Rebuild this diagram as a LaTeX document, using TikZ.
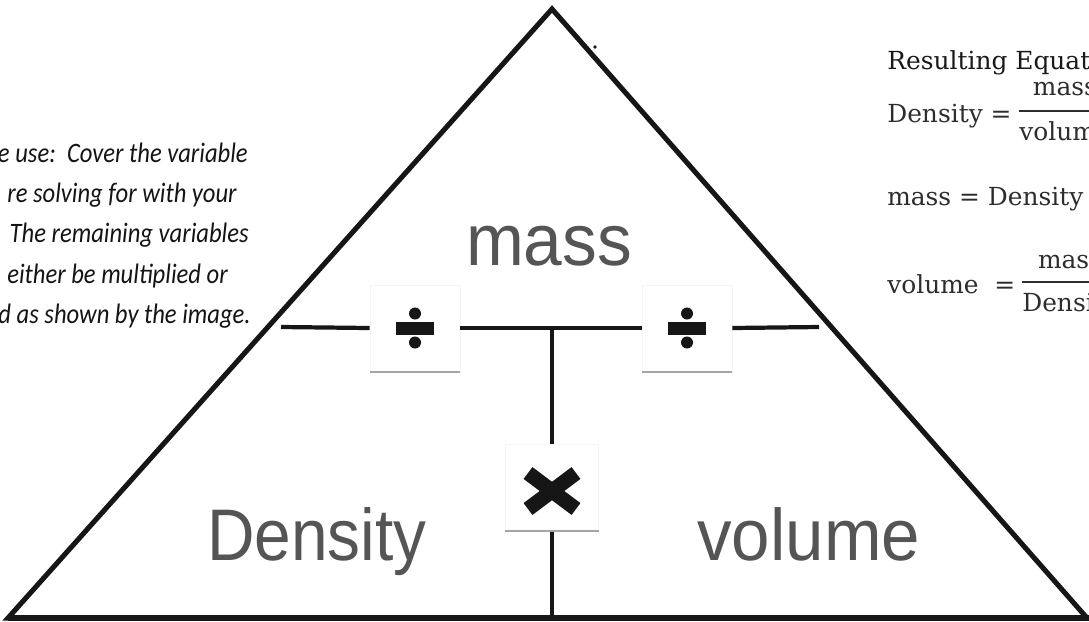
\documentclass[tikz,border=0pt]{standalone}
\usepackage{fontspec}
\usetikzlibrary{calc}
\newfontfamily\notefont{Carlito}
\newfontfamily\eqfont{DejaVu Serif}
\newfontfamily\labelfont{Liberation Sans}
\definecolor{inkline}{RGB}{22,22,22}
\definecolor{labelgray}{RGB}{85,85,85}
\definecolor{eqgray}{RGB}{45,45,45}
\definecolor{notegray}{RGB}{20,20,20}
\definecolor{boxedge}{RGB}{244,244,244}
\definecolor{boxshadow}{RGB}{165,165,165}
\tikzset{edge/.style={line width=3.6pt,inkline,line join=miter},
 divider/.style={line width=3pt,inkline},
 opbox/.style={draw=boxedge,fill=white,minimum width=64pt,minimum height=61pt,inner sep=0pt},
 bigword/.style={inner sep=0pt,labelgray,font=\labelfont\fontsize{52}{60}\selectfont},
 note/.style={inner sep=0pt,notegray,anchor=base east,font=\notefont\itshape\fontsize{20}{24}\selectfont},
 eqtext/.style={inner sep=0pt,eqgray,anchor=base west,font=\eqfont\fontsize{17.7}{21}\selectfont},
 fracbar/.style={line width=1.5pt,eqgray}}

\begin{document}
\begin{tikzpicture}[x=0.025cm,y=-0.025cm]
\useasboundingbox (0,0) rectangle (1089,621);
\clip (0,0) rectangle (1089,621);
% triangle and dividers
\coordinate (apex) at (552,9);
\coordinate (bl) at (8,618);
\coordinate (br) at (1087,618);
\coordinate (hleft) at (281,327);
\coordinate (hright) at (819,327);
\coordinate (hmid) at (552,327);
\coordinate (basemid) at (552,618);
\draw[edge] (bl) -- (apex) -- (br) -- cycle;
\draw[edge] (bl) -- (1095,618);
\fill[inkline] (595,47) circle (1.8);
\node[opbox] (divleft) at (415,328) {};
\node[opbox] (divright) at (687,328) {};
\node[opbox,minimum width=66pt] (timesbox) at (552,487) {};
\draw[divider] (hleft) -- (divleft.west);
\draw[divider] (divleft.east) -- (divright.west);
\draw[divider] (divright.east) -- (hright);
\draw[divider] (hmid) -- (timesbox.north);
\draw[divider] (timesbox.south) -- (basemid);
\foreach \b in {divleft,divright,timesbox} {
 \draw[boxshadow,line width=1.5pt] ($(\b.south west)+(0,1)$) -- ($(\b.south east)+(0,1)$);
}
\foreach \b in {divleft,divright} {
 \fill[inkline] ($(\b)+(-19,-6.5)$) rectangle ($(\b)+(19,6.5)$);
 \fill[inkline] ($(\b)+(0,-14.5)$) circle (6);
 \fill[inkline] ($(\b)+(0,14.5)$) circle (6);
}
\draw[inkline,line width=10.5pt] ($(timesbox)+(-24,-14)$) -- ($(timesbox)+(24,22)$);
\draw[inkline,line width=10.5pt] ($(timesbox)+(-24,22)$) -- ($(timesbox)+(24,-14)$);
% the three variables
\node[bigword,anchor=base] (lblmass) at (549,265) {\scalebox{0.95}[1]{mass}};
\node[bigword,anchor=base west] (lbldensity) at (207,560) {\scalebox{0.9}[1]{Density}};
\node[bigword,anchor=base west] (lblvolume) at (697,560) {\scalebox{0.945}[1]{volume}};
% how to use
\foreach \ypos/\xend/\txt [count=\i] in {162/248/e use:\ \ Cover the variable,
 202/237/re solving for with your, 242/249/The remaining variables,
 283/228/either be multiplied or, 323/251/d as shown by the image.}
 \node[note] (note\i) at (\xend,\ypos) {\scalebox{0.875}[1]{\txt}};
% resulting equations
\node[eqtext,black!90] (eqhead) at (887,69) {Resulting Equations:};
\node[eqtext] (eqdens) at (887,122) {Density =};
\node[eqtext] (eqdensden) at (1019,140) {volume};
\node[eqtext,anchor=base] (eqdensnum) at ($(eqdensden.base)+(0,-45)$) {mass};
\draw[fracbar] ($(eqdensden.base west)+(0,-29)$) -- ($(eqdensden.base east)+(0,-29)$);
\node[eqtext] (eqmass) at (887,205) {mass = Density x volume};
\node[eqtext] (eqvol) at (887,293) {volume\ \ =};
\node[eqtext] (eqvolden) at (1022,311) {Density};
\node[eqtext,anchor=base] (eqvolnum) at ($(eqvolden.base)+(0,-43)$) {mass};
\draw[fracbar] ($(eqvolden.base west)+(0,-29)$) -- ($(eqvolden.base east)+(0,-29)$);
\end{tikzpicture}
\end{document}
